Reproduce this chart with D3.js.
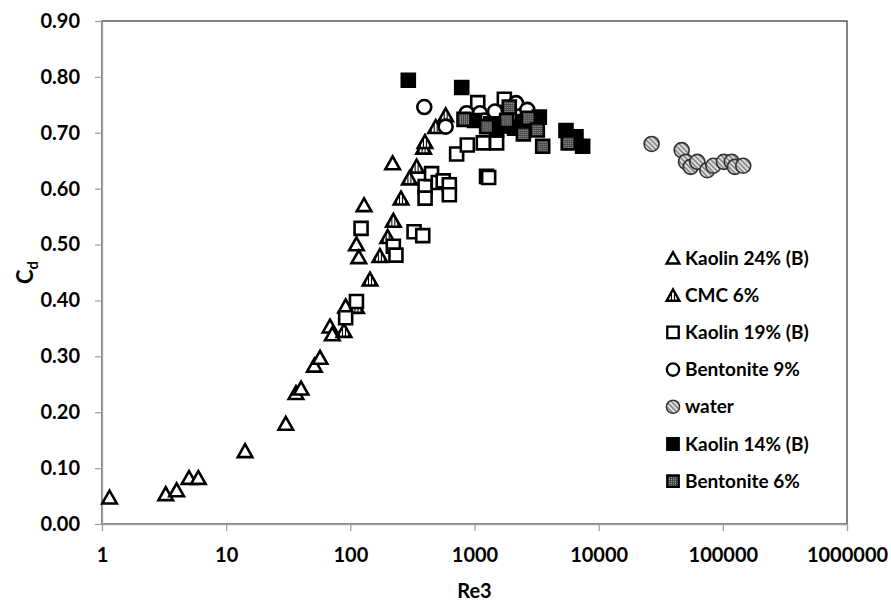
<!DOCTYPE html>
<html>
<head>
<meta charset="utf-8">
<script src="https://cdn.jsdelivr.net/npm/d3@7"></script>
<style>
  html, body { margin: 0; padding: 0; background: #fff; }
  svg { display: block; font-family: Lato, "Liberation Sans", sans-serif; font-weight: 700; }
</style>
</head>
<body>
<svg id="chart" width="891" height="601"></svg>
<script>
// Discharge coefficient Cd versus Reynolds number Re3, per fluid
const kaolin24 = [[1.15,0.048],[3.26,0.054],[3.99,0.061],[5.02,0.083],[5.97,0.083],[14.2,0.131],
  [30.2,0.180],[36.5,0.235],[40.1,0.243],[51.3,0.284],[57,0.298],[68.6,0.354],[71.6,0.340],
  [91.7,0.390],[112,0.501],[117,0.478],[129,0.571],[219,0.646]];
const cmc6 = [[88.9,0.346],[112,0.389],[144,0.438],[173,0.480],[200,0.514],[222,0.543],[256,0.583],
  [299,0.619],[342,0.640],[389,0.674],[399,0.684],[487,0.711],[586,0.732]];
const kaolin19 = [[91.7,0.369],[112,0.398],[122,0.529],[222,0.497],[233,0.481],[326,0.523],[383,0.516],
  [400,0.604],[400,0.583],[451,0.627],[511,0.611],[560,0.614],[627,0.607],[627,0.589],[718,0.662],
  [875,0.678],[1062,0.754],[1178,0.682],[1250,0.622],[1300,0.620],[1507,0.682],[1739,0.760]];
const bentonite9 = [[394,0.746],[586,0.711],[865,0.735],[1107,0.735],[1200,0.722],[1462,0.738],
  [1900,0.728],[2160,0.753],[2662,0.741]];
const water = [[26700,0.680],[46600,0.669],[50500,0.648],[55100,0.639],[62300,0.648],[75000,0.633],
  [83800,0.641],[102000,0.648],[118000,0.648],[125000,0.639],[146000,0.641]];
const kaolin14 = [[293,0.794],[789,0.781],[1000,0.722],[1350,0.716],[1507,0.705],[1750,0.712],
  [2100,0.708],[2500,0.720],[3326,0.728],[5454,0.704],[6564,0.693],[7431,0.676]];
const bentonite6 = [[823,0.724],[1253,0.711],[1815,0.722],[1906,0.746],[2474,0.698],[2714,0.726],
  [3206,0.705],[3541,0.676],[5690,0.682]];

const seriesNames = ["Kaolin 24% (B)", "CMC 6%", "Kaolin 19% (B)", "Bentonite 9%", "water", "Kaolin 14% (B)", "Bentonite 6%"];
const xTicks = [1, 10, 100, 1000, 10000, 100000, 1000000];
const yTicks = [0, 0.1, 0.2, 0.3, 0.4, 0.5, 0.6, 0.7, 0.8, 0.9];

const svg = d3.select("#chart");
const x = d3.scaleLog().domain([1, 1e6]).range([102, 847]);
const y = d3.scaleLinear().domain([0, 0.9]).range([524, 21]);

// fill patterns for the textured markers
const defs = svg.append("defs");
const vl = defs.append("pattern").attr("id", "vlines").attr("patternUnits", "userSpaceOnUse")
  .attr("width", 3).attr("height", 3);
vl.append("rect").attr("width", 3).attr("height", 3).attr("fill", "#fff");
vl.append("line").attr("x1", 1.5).attr("x2", 1.5).attr("y1", 0).attr("y2", 3)
  .attr("stroke", "#000").attr("stroke-width", 1.1);

const wh = defs.append("pattern").attr("id", "diag").attr("patternUnits", "userSpaceOnUse")
  .attr("width", 3.5).attr("height", 3.5).attr("patternTransform", "rotate(45)");
wh.append("rect").attr("width", 3.5).attr("height", 3.5).attr("fill", "#e0e0e0");
wh.append("line").attr("x1", 0).attr("x2", 3.5).attr("y1", 1).attr("y2", 1)
  .attr("stroke", "#777").attr("stroke-width", 1.4);

const dt = defs.append("pattern").attr("id", "dots").attr("patternUnits", "userSpaceOnUse")
  .attr("width", 2).attr("height", 2);
dt.append("rect").attr("width", 2).attr("height", 2).attr("fill", "#454545");
dt.append("rect").attr("width", 1).attr("height", 1).attr("fill", "#a8a8a8");

// marker shapes
const tri = s => `M0,${-s * 0.47}L${s * 0.52},${s * 0.45}L${-s * 0.52},${s * 0.45}Z`;
const sq = s => `M${-s / 2},${-s / 2}h${s}v${s}h${-s}Z`;
const circ = s => d3.symbol(d3.symbolCircle, Math.PI * (s / 2) * (s / 2))();

const styles = [
  { data: kaolin24,  shape: tri,  size: 14, fill: "#fff",          stroke: "#000", sw: 2.6 },
  { data: cmc6,      shape: tri,  size: 14, fill: "url(#vlines)",  stroke: "#000", sw: 2.6 },
  { data: kaolin19,  shape: sq,   size: 13, fill: "#fff",          stroke: "#000", sw: 2.6 },
  { data: bentonite9,shape: circ, size: 14, fill: "#fff",          stroke: "#000", sw: 2.6 },
  { data: water,     shape: circ, size: 15, fill: "url(#diag)",    stroke: "#333", sw: 1.6 },
  { data: kaolin14,  shape: sq,   size: 13, fill: "#000",          stroke: "#000", sw: 2.6 },
  { data: bentonite6,shape: sq,   size: 13, fill: "url(#dots)",    stroke: "#000", sw: 2.6 }
];

// plot frame
svg.append("rect").attr("x", x.range()[0]).attr("y", y.range()[1])
  .attr("width", x.range()[1] - x.range()[0]).attr("height", y.range()[0] - y.range()[1])
  .attr("fill", "none").attr("stroke", "#404040").attr("stroke-width", 1.3);

// axes
const yAxis = svg.append("g").attr("transform", `translate(${x.range()[0]},0)`)
  .call(d3.axisLeft(y).tickValues(yTicks).tickFormat(d3.format(".2f")).tickSize(7).tickPadding(15).tickSizeOuter(0));
const xAxis = svg.append("g").attr("transform", `translate(0,${y.range()[0]})`)
  .call(d3.axisBottom(x).tickValues(xTicks).tickFormat(d3.format("d")).tickSize(7).tickPadding(17).tickSizeOuter(0));
[yAxis, xAxis].forEach(g => {
  g.select(".domain").attr("stroke", "#a0a0a0").attr("stroke-width", 1.3);
  g.selectAll(".tick line").attr("stroke", "#a0a0a0").attr("stroke-width", 1.3);
  g.selectAll(".tick text").attr("fill", "#000").style("font-size", "20px").style("font-weight", 700)
    .style("font-family", "Lato, sans-serif");
});

// axis titles
svg.append("text").attr("x", (x.range()[0] + x.range()[1]) / 2).attr("y", 598)
  .attr("text-anchor", "middle").style("font-size", "20px").text("Re3");
const yt = svg.append("text").attr("transform", `translate(33,${(y.range()[0] + y.range()[1]) / 2}) rotate(-90)`)
  .attr("text-anchor", "middle").style("font-size", "22px");
yt.append("tspan").text("C");
yt.append("tspan").attr("dy", 5).style("font-size", "15px").text("d");

// data markers, drawn series by series
styles.forEach(st => {
  svg.append("g").selectAll("path").data(st.data).join("path")
    .attr("transform", d => `translate(${x(d[0])},${y(d[1])})`)
    .attr("d", st.shape(st.size))
    .attr("fill", st.fill).attr("stroke", st.stroke).attr("stroke-width", st.sw)
    .attr("stroke-linejoin", "miter");
});

// legend
const lg = svg.append("g").attr("transform", "translate(673,258)");
styles.forEach((st, i) => {
  const row = lg.append("g").attr("transform", `translate(0,${i * 37.2})`);
  row.append("path").attr("d", st.shape(st.size * 0.88))
    .attr("fill", st.fill).attr("stroke", st.stroke).attr("stroke-width", st.sw * 0.9);
  row.append("text").attr("x", 12).attr("y", 0).attr("dy", "0.35em")
    .style("font-size", "19px").text(seriesNames[i]);
});
</script>
</body>
</html>
